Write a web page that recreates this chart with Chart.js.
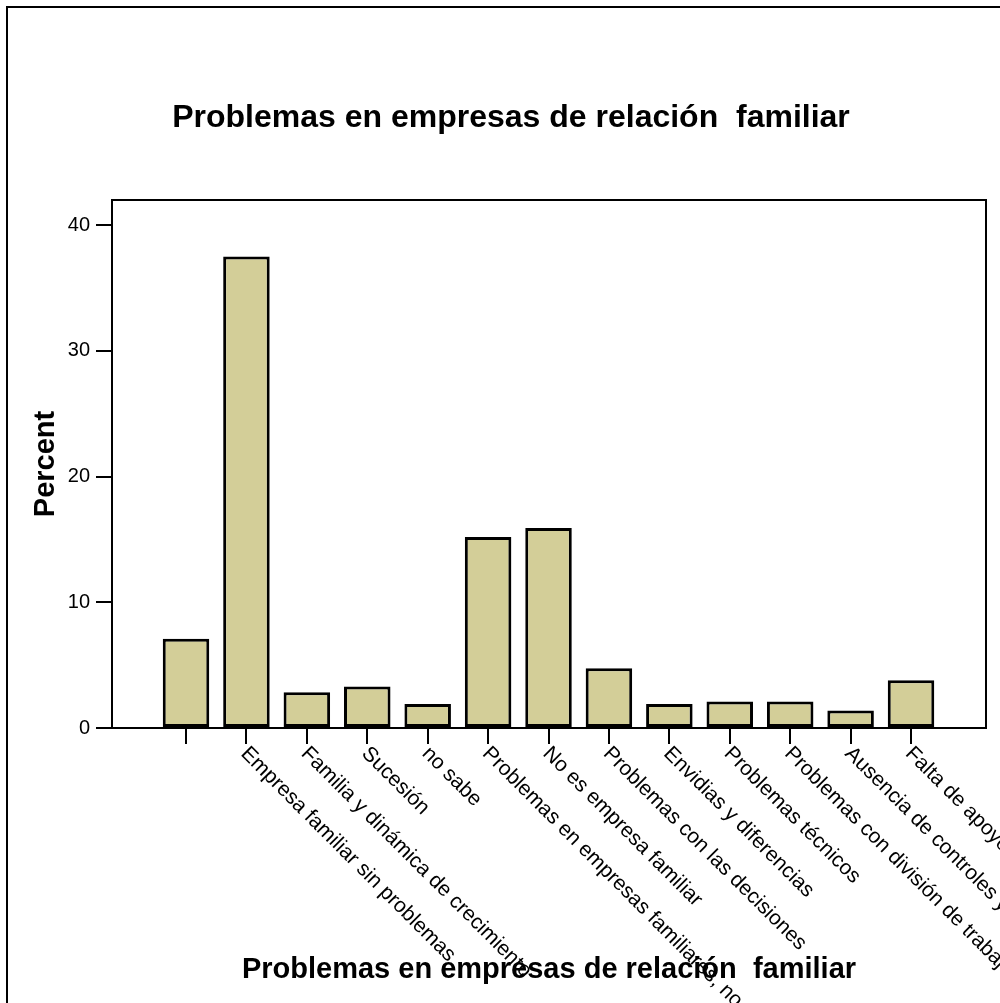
<!DOCTYPE html>
<html lang="es">
<head>
  <meta charset="UTF-8" />
  <title>Problemas en empresas de relación familiar</title>
  <script src="https://cdn.jsdelivr.net/npm/chart.js"></script>
  <style>
    * {
      margin: 0;
      padding: 0;
      box-sizing: border-box;
    }

    body {
      background-color: #ffffff;
      width: 1000px;
      height: 1003px;
      overflow: hidden;
    }

    canvas {
      display: block;
    }
  </style>
</head>
<body>

  <canvas id="barChart" width="1000" height="1003"></canvas>

  <script>
    // chart data
    const categories = [
      '',
      'Empresa familiar sin problemas',
      'Familia y dinámica de crecimiento',
      'Sucesión',
      'no sabe',
      'Problemas en empresas familiares, no especificados',
      'No es empresa familiar',
      'Problemas con las decisiones',
      'Envidias y diferencias',
      'Problemas técnicos',
      'Problemas con división de trabajo',
      'Ausencia de controles y reglas',
      'Falta de apoyo familiar'
    ];
    const percentValues = [7.1, 37.5, 2.85, 3.3, 1.9, 15.2, 15.9, 4.75, 1.9, 2.1, 2.1, 1.4, 3.8];
    const yTicks = [0, 10, 20, 30, 40];

    const chartTitle = 'Problemas en empresas de relación  familiar';
    const fontFamily = 'Arial, "Liberation Sans", sans-serif';

    const frames = {
      id: 'frames',
      beforeDraw(chart) {
        const ctx = chart.ctx;
        const area = chart.chartArea;
        ctx.save();
        ctx.fillStyle = '#ffffff';
        ctx.fillRect(0, 0, chart.width, chart.height);
        ctx.strokeStyle = '#000';
        ctx.lineWidth = 2;
        ctx.strokeRect(7, 7, 1200, 1200);
        ctx.strokeRect(area.left, area.top, area.right - area.left, area.bottom - area.top);
        ctx.fillStyle = '#000';
        ctx.font = 'bold 32px ' + fontFamily;
        ctx.textAlign = 'center';
        ctx.textBaseline = 'middle';
        ctx.fillText(chartTitle, 511, 118);
        ctx.restore();
      },
      afterDraw(chart) {
        const ctx = chart.ctx;
        const xs = chart.scales.x;
        ctx.save();
        ctx.fillStyle = '#000';
        ctx.font = '21px ' + fontFamily;
        ctx.textAlign = 'left';
        ctx.textBaseline = 'top';
        categories.forEach((lab, i) => {
          ctx.save();
          ctx.translate(xs.getPixelForValue(i) + 5, xs.top + 15);
          ctx.rotate(Math.PI / 4);
          ctx.fillText(lab, 0, 0);
          ctx.restore();
        });
        ctx.restore();
      }
    };

    const ctx = document.getElementById('barChart').getContext('2d');

    new Chart(ctx, {
      type: 'bar',
      data: {
        datasets: [{
          label: 'Percent',
          data: percentValues.map((v, i) => ({ x: i, y: v })),
          backgroundColor: '#d3ce98',
          borderColor: '#000',
          borderWidth: 3,
          borderSkipped: false,
          barPercentage: 0.77,
          categoryPercentage: 1
        }]
      },
      options: {
        responsive: false,
        animation: false,
        layout: {
          padding: { top: 200, right: 14, left: 0, bottom: 0 }
        },
        plugins: {
          legend: { display: false },
          tooltip: { enabled: false }
        },
        scales: {
          x: {
            type: 'linear',
            offset: false,
            min: -1.225,
            max: 13.241,
            afterBuildTicks: (scale) => {
              scale.ticks = categories.map((c, i) => ({ value: i }));
            },
            afterFit: (scale) => {
              scale.height = 275;
            },
            ticks: { display: false },
            grid: {
              offset: false,
              drawOnChartArea: false,
              drawTicks: true,
              tickLength: 16,
              color: '#000',
              lineWidth: 2
            },
            border: { display: true, color: '#000', width: 2 },
            title: {
              display: true,
              text: chartTitle,
              color: '#000',
              font: { family: fontFamily, size: 29, weight: 'bold' },
              padding: { top: 0, bottom: 16 }
            }
          },
          y: {
            min: 0,
            max: 42,
            afterBuildTicks: (scale) => {
              scale.ticks = yTicks.map(v => ({ value: v }));
            },
            afterFit: (scale) => {
              scale.width = 112;
            },
            ticks: {
              color: '#000',
              padding: 6,
              font: { family: fontFamily, size: 20 }
            },
            grid: {
              drawOnChartArea: false,
              drawTicks: true,
              tickLength: 16,
              color: '#000',
              lineWidth: 2
            },
            border: { display: true, color: '#000', width: 2 },
            title: {
              display: true,
              text: 'Percent',
              color: '#000',
              font: { family: fontFamily, size: 29, weight: 'bold' },
              padding: { top: 29, bottom: 0 }
            }
          }
        }
      },
      plugins: [frames]
    });
  </script>

</body>
</html>
